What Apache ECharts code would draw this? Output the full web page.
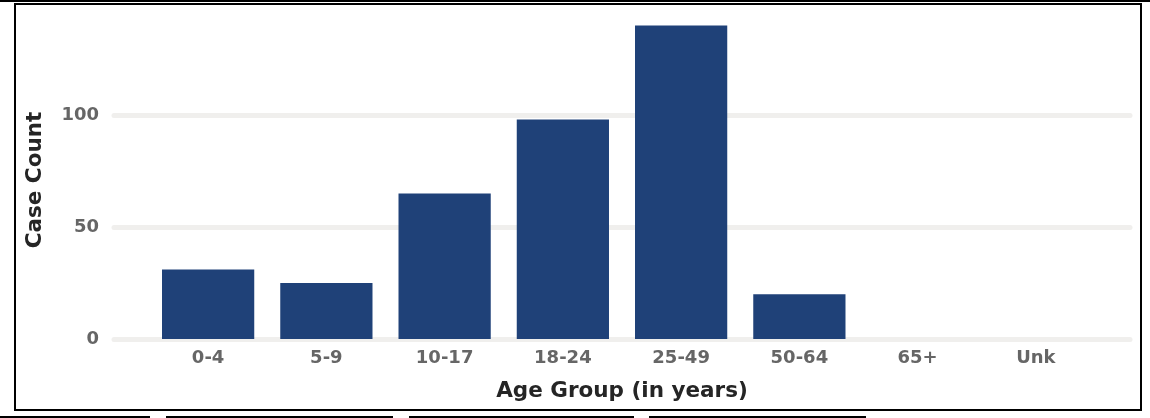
<!DOCTYPE html>
<html>
<head>
<meta charset="utf-8">
<script src="https://cdn.jsdelivr.net/npm/echarts@6/dist/echarts.min.js"></script>
<style>
  html, body { margin: 0; padding: 0; background: #fff; }
  #wrap { position: relative; width: 1150px; height: 418px; overflow: hidden; }
  #main { position: absolute; left: 0; top: 0; width: 1150px; height: 418px; }
  .ln { position: absolute; background: #000; }
  #box { position: absolute; left: 14px; top: 3px; width: 1124px; height: 404px; border: 2px solid #000; }
</style>
</head>
<body>
<div id="wrap">
  <div class="ln" style="left:0;top:0;width:1150px;height:1.5px"></div>
  <div id="box"></div>
  <div id="main"></div>
  <div class="ln" style="left:0;top:416px;width:150px;height:1.5px"></div>
  <div class="ln" style="left:166px;top:416px;width:227px;height:1.5px"></div>
  <div class="ln" style="left:409px;top:416px;width:225px;height:1.5px"></div>
  <div class="ln" style="left:649px;top:416px;width:217px;height:1.5px"></div>
</div>
<script>
// 年龄组及病例数
var ageGroups = ['0-4', '5-9', '10-17', '18-24', '25-49', '50-64', '65+', 'Unk'];
var caseCounts = [31, 25, 65, 98, 140, 20, 0, 0];
var yTicks = { min: 0, max: 142, interval: 50 };

var myChart = echarts.init(document.getElementById('main'));
var labelFont = { color: '#666666', fontFamily: 'DejaVu Sans', fontWeight: 'bold', fontSize: 18 };
var nameFont = { color: '#252525', fontFamily: 'DejaVu Sans', fontWeight: 'bold', fontSize: 21.5 };

var option = {
  animation: false,
  grid: [
    { left: 114, right: 20, top: 21, bottom: 79 },
    { left: 149, right: 55, top: 21, bottom: 79 }
  ],
  xAxis: [
    { gridIndex: 0, type: 'value', min: 0, max: 1, show: false },
    {
      gridIndex: 1,
      type: 'category',
      data: ageGroups,
      axisLine: { show: false },
      axisTick: { show: false },
      axisLabel: Object.assign({ margin: 10 }, labelFont),
      name: 'Age Group (in years)',
      nameLocation: 'middle',
      nameGap: 41,
      nameTextStyle: nameFont
    }
  ],
  yAxis: [
    {
      gridIndex: 0,
      type: 'value',
      min: yTicks.min,
      max: yTicks.max,
      interval: yTicks.interval,
      axisLine: { show: false },
      axisTick: { show: false },
      axisLabel: Object.assign({ margin: 15, showMaxLabel: false }, labelFont),
      splitLine: {
        show: true,
        showMaxLine: false,
        lineStyle: { color: '#f0efed', width: 5, cap: 'round' }
      },
      name: 'Case Count',
      nameLocation: 'middle',
      nameGap: 68,
      nameTextStyle: nameFont
    },
    {
      gridIndex: 1,
      type: 'value',
      min: yTicks.min,
      max: yTicks.max,
      interval: yTicks.interval,
      show: false,
      splitLine: { show: false }
    }
  ],
  series: [
    {
      type: 'bar',
      xAxisIndex: 1,
      yAxisIndex: 1,
      data: caseCounts,
      barCategoryGap: '22%',
      itemStyle: { color: '#1f4178' }
    }
  ]
};

myChart.setOption(option);
</script>
</body>
</html>
